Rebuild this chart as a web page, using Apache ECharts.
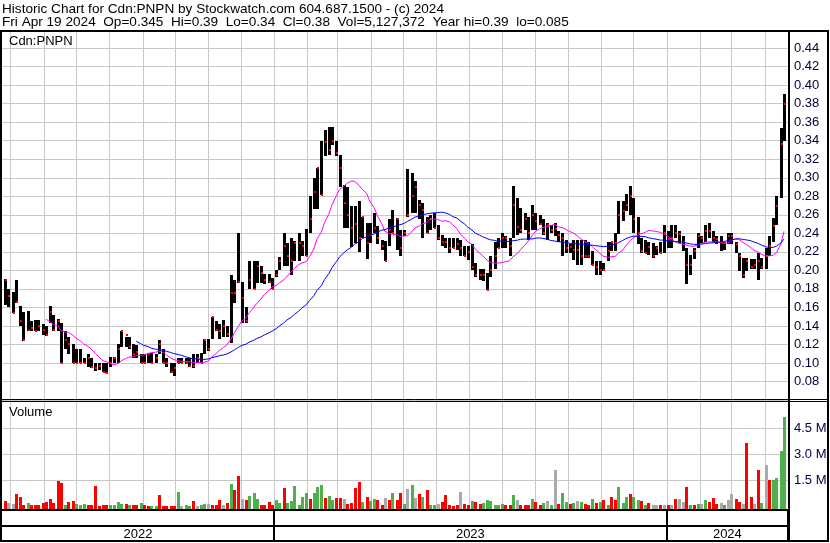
<!DOCTYPE html>
<html><head><meta charset="utf-8">
<script src="https://cdn.jsdelivr.net/npm/echarts@6/dist/echarts.min.js"></script>
<style>html,body{margin:0;padding:0;background:#fff}#c{width:830px;height:543px}</style>
</head><body><div id="c"></div>
<script>
// ---- text ----
const titleLine1 = 'Historic Chart for Cdn:PNPN by Stockwatch.com 604.687.1500 - (c) 2024';
const titleLine2 = 'Fri Apr 19 2024  Op=0.345  Hi=0.39  Lo=0.34  Cl=0.38  Vol=5,127,372  Year hi=0.39  lo=0.085';
const symbolLabel = 'Cdn:PNPN';
const volumeLabel = 'Volume';
const yearLabels = ['2022', '2023', '2024'];
const volumeTickLabels = {1.5: '1.5 M', 3: '3.0 M', 4.5: '4.5 M'};

// ---- price samples (every Tuesday & Friday, 26 Apr 2022 .. 19 Apr 2024) ----
const high = [
.191,.18,.177,.19,.161,.155,.156,.145,.146,.146,
.142,.14,.161,.152,.147,.143,.135,.128,.12,.115,
.115,.105,.11,.105,.10,.10,.10,.10,.106,.106,
.12,.135,.128,.128,.12,.119,.11,.11,.111,.111,
.11,.125,.115,.105,.10,.10,.105,.105,.105,.105,
.11,.11,.111,.126,.126,.15,.145,.142,.146,.14,
.195,.19,.24,.187,.16,.21,.21,.21,.205,.196,
.196,.192,.20,.214,.24,.23,.235,.232,.24,.232,
.245,.28,.30,.311,.34,.352,.355,.355,.34,.325,
.292,.29,.27,.27,.275,.258,.251,.251,.262,.248,
.233,.232,.255,.265,.257,.244,.244,.31,.305,.296,
.276,.273,.258,.26,.262,.249,.238,.235,.235,.235,
.235,.233,.226,.226,.229,.208,.201,.201,.197,.215,
.231,.235,.24,.237,.235,.291,.278,.267,.262,.258,
.271,.262,.26,.255,.251,.249,.251,.242,.24,.233,
.229,.233,.233,.233,.233,.231,.221,.21,.21,.208,
.231,.231,.24,.275,.275,.282,.291,.278,.258,.235,
.233,.231,.23,.226,.231,.249,.242,.249,.249,.242,
.237,.224,.217,.224,.24,.237,.249,.251,.242,.237,
.237,.231,.24,.24,.231,.219,.213,.213,.212,.212,
.219,.213,.224,.237,.257,.28,.354,.39];
const low = [
.163,.16,.154,.165,.14,.124,.135,.135,.135,.135,
.13,.129,.143,.135,.134,.10,.115,.11,.10,.10,
.10,.10,.096,.095,.091,.092,.09,.089,.096,.10,
.10,.117,.117,.115,.105,.105,.10,.10,.10,.10,
.10,.11,.10,.096,.089,.086,.10,.10,.099,.096,
.095,.10,.10,.11,.113,.126,.135,.126,.128,.128,
.122,.165,.186,.143,.143,.18,.18,.186,.186,.185,
.186,.18,.193,.20,.205,.205,.195,.21,.21,.215,
.215,.24,.266,.266,.281,.323,.325,.335,.323,.29,
.246,.246,.225,.23,.22,.235,.212,.23,.24,.228,
.222,.21,.226,.24,.222,.215,.237,.258,.262,.262,
.255,.235,.24,.244,.246,.233,.226,.224,.219,.224,
.222,.215,.215,.211,.20,.193,.19,.188,.179,.193,
.201,.224,.224,.224,.215,.235,.238,.24,.244,.233,
.244,.244,.249,.238,.233,.24,.237,.231,.215,.219,
.219,.211,.206,.206,.213,.213,.206,.195,.195,.199,
.21,.221,.221,.239,.253,.264,.26,.24,.228,.219,
.219,.217,.213,.217,.219,.219,.224,.224,.235,.23,
.221,.185,.195,.212,.224,.23,.231,.235,.231,.228,
.221,.222,.228,.228,.219,.199,.192,.199,.201,.201,
.19,.201,.201,.215,.231,.249,.278,.34];
const close = [
.19,.172,.154,.166,.145,.125,.136,.138,.135,.14,
.136,.13,.155,.136,.145,.10,.125,.12,.10,.10,
.10,.10,.105,.096,.095,.097,.09,.089,.10,.105,
.115,.135,.13,.117,.11,.112,.10,.10,.11,.10,
.105,.12,.10,.10,.09,.095,.10,.10,.10,.097,
.097,.105,.10,.125,.115,.15,.136,.135,.14,.131,
.176,.176,.187,.17,.145,.19,.18,.205,.197,.19,
.187,.18,.195,.21,.226,.215,.21,.23,.23,.226,
.215,.255,.285,.311,.281,.339,.33,.34,.327,.311,
.273,.26,.246,.25,.235,.258,.23,.238,.246,.235,
.226,.21,.244,.24,.255,.224,.24,.26,.28,.29,
.271,.265,.24,.255,.246,.235,.231,.231,.224,.224,
.228,.224,.215,.22,.204,.195,.195,.195,.179,.20,
.215,.224,.235,.235,.226,.271,.247,.244,.255,.24,
.26,.253,.25,.24,.249,.244,.245,.238,.235,.224,
.225,.222,.222,.215,.215,.215,.206,.204,.20,.20,
.221,.231,.23,.26,.264,.271,.28,.255,.24,.221,
.219,.225,.215,.224,.219,.24,.234,.235,.24,.239,
.231,.206,.206,.221,.237,.235,.242,.242,.235,.234,
.231,.23,.237,.237,.228,.215,.195,.21,.204,.206,
.21,.204,.215,.226,.248,.27,.336,.38];
// volume in millions of shares
const volumeM = [
.33,.17,.15,.71,.56,.1,.17,.08,.08,.05,
.17,.27,.42,.2,1.48,1.37,.08,.27,.31,.12,
.06,.12,.05,.05,1.17,.03,.05,.05,.05,.05,
.23,.12,.13,.08,.08,.08,.17,.05,.03,.04,
.04,.65,.04,.04,.04,.03,.83,.04,.05,.04,
.31,.03,.05,.13,.13,.08,.05,.37,.08,.17,
1.29,.94,1.75,.42,.37,.6,.75,.42,.08,.08,
.27,.1,.37,.17,1.04,.17,.33,1.17,.1,.56,
.79,.4,.79,1.1,1.21,.5,.6,.37,.5,.5,
.4,.13,.2,1.04,1.4,.27,.56,.3,.4,.37,
.1,.48,.37,.75,.37,.75,.15,.98,1.21,.46,
.71,.52,.94,.05,.08,.13,.27,.65,.05,.03,
.05,.81,.13,.05,.29,.23,.13,.17,.37,.33,
.08,.08,.12,.08,.08,.65,.37,.08,.05,.08,
.42,.27,.08,.17,.31,.1,2.1,.13,.79,.27,
.13,.17,.31,.27,.13,.1,.44,.21,.27,.37,
.1,.56,.37,1.13,.17,.56,.71,.56,.37,.31,
.08,.17,.08,.08,.05,.05,.05,.08,.44,.42,
.27,1.1,.05,.08,.12,.13,.37,.27,.46,.12,
.17,.1,.37,.71,.4,.27,.13,3.63,.56,.13,
2.1,.17,2.38,1.52,1.52,1.65,3.21,5.13];
// volume bar colour: u = up (green), d = down (red), n = unchanged (grey)
const volumeDir = (
'dnnddduddd' + 'dddddduddu' + 'uudddddduu' + 'uududduddu' + 'udddddunuu' +
'dnuundddnd' + 'uddnduuudd' + 'dduuduuuuu' + 'uduuuduudd' + 'ndddduduud' +
'dnduddunun' + 'duduundddd' + 'dnddudduuu' + 'uuuddunddd' + 'uddununduu' +
'dunuddudud' + 'udduuuduud' + 'udnndndndn' + 'ndudunuddd' + 'nunnddnddn' +
'dunduuuu').split('');

// ---- calendar ----
const DAY = 86400000;
const axisMin = Date.UTC(2022, 3, 23, 5);
const axisMax = Date.UTC(2024, 3, 22, 17);
const sampleDates = [];
{ let t = Date.UTC(2022, 3, 26); for (let i = 0; i < close.length; i++) { sampleDates.push(t); t += (i % 2 === 0 ? 3 : 4) * DAY; } }
const monthStarts = [];
for (let y = 2022, m = 4; y < 2024 || m <= 3; ) { monthStarts.push(Date.UTC(y, m, 1)); m++; if (m > 11) { m = 0; y++; } }
const yearBounds = [axisMin, Date.UTC(2023, 0, 1), Date.UTC(2024, 0, 1), axisMax];

function sma(arr, n) {
  return arr.map((v, i) => {
    if (i < n - 1) return null;
    let s = 0; for (let k = i - n + 1; k <= i; k++) s += arr[k];
    return s / n;
  });
}
const maShort = sma(close, 12);  // magenta
const maLong = sma(close, 36);   // blue

const FONT = '"Liberation Sans", Arial, sans-serif';
const GRID_GRAY = '#c8c8c8';

const chart = echarts.init(document.getElementById('c'), null, {renderer: 'canvas', width: 830, height: 543});

function monthLineRender(ext) {
  return function (params, api) {
    const x = Math.round(api.coord([api.value(0), 0])[0]) + 0.5;
    const cs = params.coordSys;
    return {type: 'line', shape: {x1: x, y1: cs.y, x2: x, y2: cs.y + cs.height + ext},
      style: {stroke: GRID_GRAY, lineWidth: 1}};
  };
}

const dirColor = {u: '#4cb04c', d: '#ff0000', n: '#aaaaaa'};
const titleStyle = {fontSize: 13.6, fontWeight: 'normal', color: '#000', fontFamily: FONT};
const labelStyle = {fontSize: 13, fontWeight: 'normal', color: '#000', fontFamily: FONT};

const option = {
  animation: false,
  backgroundColor: '#fff',
  title: [
    {text: titleLine1, left: 2, top: 2, padding: 0, textStyle: titleStyle},
    {text: titleLine2, left: 2, top: 15, padding: 0, textStyle: titleStyle},
    {text: symbolLabel, left: 9, top: 35, padding: 0, textStyle: labelStyle},
    {text: volumeLabel, left: 9, top: 406, padding: 0, textStyle: labelStyle}
  ],
  grid: [
    {left: 2, right: 42, top: 31, height: 369},
    {left: 2, right: 42, top: 402.3, height: 104},
    {left: 2, right: 42, top: 510, height: 31}
  ],
  xAxis: [0, 1, 2].map(i => ({type: 'time', gridIndex: i, min: axisMin, max: axisMax, show: false})),
  yAxis: [
    {type: 'value', gridIndex: 0, position: 'right', min: 0.06, max: 0.4585, interval: 0.02,
      axisLine: {show: false}, axisTick: {show: false},
      splitLine: {lineStyle: {color: GRID_GRAY, width: 1}},
      axisLabel: {showMinLabel: false, showMaxLabel: false, margin: 6, color: '#00003c', fontSize: 13, fontFamily: FONT,
        formatter: v => v.toFixed(2)}},
    {type: 'value', gridIndex: 1, position: 'right', min: 0, max: 6e6, interval: 1.5e6,
      axisLine: {show: false}, axisTick: {show: false},
      splitLine: {lineStyle: {color: ['rgba(0,0,0,0)', GRID_GRAY, GRID_GRAY, GRID_GRAY, 'rgba(0,0,0,0)', 'rgba(0,0,0,0)'], width: 1}},
      axisLabel: {margin: 6, color: '#00003c', fontSize: 13, fontFamily: FONT,
        formatter: v => volumeTickLabels[v / 1e6] || ''}},
    {type: 'value', gridIndex: 2, min: 0, max: 2, show: false}
  ],
  series: [
    {type: 'custom', name: 'monthGridPrice', xAxisIndex: 0, yAxisIndex: 0, z: 1, silent: true,
      data: monthStarts.map(t => [t]), encode: {x: 0}, renderItem: monthLineRender(0)},
    {type: 'custom', name: 'monthGridVol', xAxisIndex: 1, yAxisIndex: 1, z: 1, silent: true, clip: false,
      data: monthStarts.map(t => [t]), encode: {x: 0}, renderItem: monthLineRender(3)},
    {type: 'custom', name: 'price', xAxisIndex: 0, yAxisIndex: 0, z: 2, silent: true, clip: true,
      data: sampleDates.map((t, i) => [t, high[i], low[i], close[i]]),
      encode: {x: 0, y: [1, 2, 3]},
      renderItem: function (params, api) {
        const t = api.value(0);
        const pH = api.coord([t, api.value(1)]);
        const pL = api.coord([t, api.value(2)]);
        const pC = api.coord([t, api.value(3)]);
        const x = Math.round(pH[0]);
        const yH = Math.round(pH[1]), yL = Math.round(pL[1]);
        return {type: 'group', children: [
          {type: 'rect', shape: {x: x - 1, y: yH, width: 3, height: Math.max(2, yL - yH)}, style: {fill: '#000'}},
          {type: 'rect', shape: {x: x, y: Math.round(pC[1]) - 1, width: 2, height: 2}, style: {fill: '#ff0000'}}
        ]};
      }},
    {type: 'line', name: 'MA short', xAxisIndex: 0, yAxisIndex: 0, z: 3, silent: true, symbol: 'none',
      data: sampleDates.map((t, i) => [t, maShort[i]]), lineStyle: {color: '#ff00ff', width: 1}},
    {type: 'line', name: 'MA long', xAxisIndex: 0, yAxisIndex: 0, z: 3, silent: true, symbol: 'none',
      data: sampleDates.map((t, i) => [t, maLong[i]]), lineStyle: {color: '#0000ff', width: 1}},
    {type: 'custom', name: 'volume', xAxisIndex: 1, yAxisIndex: 1, z: 2, silent: true, clip: false,
      data: sampleDates.map((t, i) => [t, volumeM[i] * 1e6]),
      encode: {x: 0, y: 1},
      renderItem: function (params, api) {
        const t = api.value(0), v = api.value(1);
        const p = api.coord([t, v]), b = api.coord([t, 0]);
        const x = Math.round(p[0]), y = Math.round(p[1]);
        return {type: 'rect', shape: {x: x - 1, y: y, width: 3, height: Math.round(b[1]) + 3 - y},
          style: {fill: dirColor[volumeDir[params.dataIndex]]}};
      }},
    {type: 'custom', name: 'years', xAxisIndex: 2, yAxisIndex: 2, z: 2, silent: true, clip: false,
      data: yearLabels.map((y, i) => [yearBounds[i], yearBounds[i + 1]]),
      encode: {x: [0, 1]},
      renderItem: function (params, api) {
        const a = api.coord([api.value(0), 1]), b = api.coord([api.value(1), 0]);
        const cs = params.coordSys;
        const x1 = Math.round(b[0]);
        return {type: 'group', children: [
          {type: 'line', shape: {x1: x1, y1: cs.y, x2: x1, y2: cs.y + cs.height}, style: {stroke: '#000', lineWidth: 2}},
          {type: 'text', x: (a[0] + b[0]) / 2, y: (a[1] + b[1]) / 2 + 1,
            style: {text: yearLabels[params.dataIndex], fill: '#000', font: '13px ' + FONT, align: 'center', verticalAlign: 'middle'}}
        ]};
      }}
  ],
  graphic: [
    {type: 'rect', z: 100, shape: {x: 1, y: 31, width: 827, height: 510}, style: {fill: 'none', stroke: '#000', lineWidth: 2}},
    {type: 'line', z: 100, shape: {x1: 789, y1: 31, x2: 789, y2: 541}, style: {stroke: '#000', lineWidth: 2}},
    {type: 'line', z: 100, shape: {x1: 0, y1: 399.5, x2: 829, y2: 399.5}, style: {stroke: '#000', lineWidth: 1}},
    {type: 'line', z: 100, shape: {x1: 0, y1: 401.5, x2: 829, y2: 401.5}, style: {stroke: '#000', lineWidth: 1}},
    {type: 'line', z: 100, shape: {x1: 0, y1: 510, x2: 789, y2: 510}, style: {stroke: '#000', lineWidth: 2}},
    {type: 'line', z: 100, shape: {x1: 0, y1: 526, x2: 789, y2: 526}, style: {stroke: '#000', lineWidth: 2}}
  ]
};
chart.setOption(option);
</script>
</body></html>
